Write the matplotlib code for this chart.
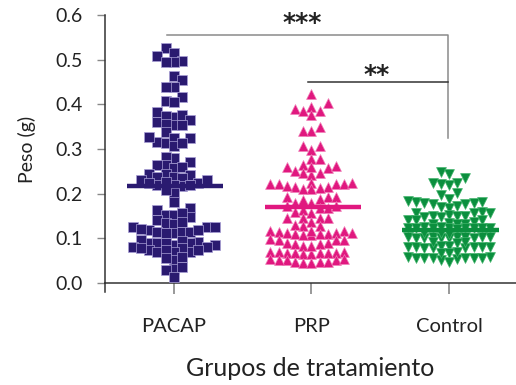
import numpy as np
import matplotlib
matplotlib.use("Agg")
import matplotlib.pyplot as plt

plt.rcParams['font.family'] = ['Lato', 'DejaVu Sans']

categories = ["PACAP", "PRP", "Control"]

pacap = [0.527, 0.515, 0.509, 0.496, 0.494, 0.495, 0.463, 0.454, 0.438, 0.439, 0.417, 0.408,
         0.406, 0.383, 0.371, 0.361, 0.374, 0.376, 0.353, 0.357, 0.365, 0.353, 0.339, 0.316,
         0.313, 0.324, 0.327, 0.324, 0.306, 0.313, 0.279, 0.283, 0.271, 0.264, 0.257, 0.260,
         0.264, 0.245, 0.244, 0.238, 0.238, 0.242, 0.234, 0.230, 0.223, 0.219, 0.217, 0.219,
         0.223, 0.219, 0.227, 0.230, 0.201, 0.208, 0.182, 0.167, 0.163, 0.152, 0.148, 0.152,
         0.156, 0.142, 0.135, 0.126, 0.119, 0.125, 0.126, 0.122, 0.133, 0.137, 0.115, 0.111,
         0.111, 0.115, 0.115, 0.119, 0.092, 0.090, 0.085, 0.081, 0.089, 0.096, 0.089, 0.081,
         0.085, 0.089, 0.094, 0.070, 0.074, 0.074, 0.078, 0.078, 0.070, 0.070, 0.074, 0.051,
         0.055, 0.059, 0.031, 0.036, 0.028, 0.014]

prp = [0.423, 0.402, 0.389, 0.386, 0.386, 0.394, 0.376, 0.350, 0.341, 0.341, 0.306, 0.298,
       0.306, 0.277, 0.277, 0.257, 0.262, 0.259, 0.264, 0.247, 0.242, 0.247, 0.251, 0.259,
       0.221, 0.221, 0.215, 0.214, 0.223, 0.210, 0.212, 0.210, 0.217, 0.221, 0.221, 0.223,
       0.193, 0.192, 0.187, 0.186, 0.193, 0.172, 0.167, 0.178, 0.178, 0.167, 0.172, 0.160,
       0.157, 0.163, 0.145, 0.145, 0.137, 0.145, 0.145, 0.128, 0.128, 0.130, 0.115, 0.111,
       0.110, 0.110, 0.117, 0.107, 0.107, 0.111, 0.110, 0.111, 0.117, 0.117, 0.096, 0.096,
       0.098, 0.089, 0.090, 0.096, 0.087, 0.087, 0.083, 0.070, 0.068, 0.068, 0.068, 0.066,
       0.065, 0.068, 0.068, 0.070, 0.070, 0.083, 0.051, 0.051, 0.048, 0.048, 0.045, 0.045,
       0.048, 0.051, 0.053, 0.053]

control = [0.249, 0.244, 0.234, 0.224, 0.219, 0.221, 0.224, 0.197, 0.189, 0.201, 0.182, 0.178,
           0.177, 0.172, 0.169, 0.171, 0.177, 0.178, 0.182, 0.184, 0.160, 0.156, 0.152, 0.150,
           0.148, 0.150, 0.148, 0.150, 0.156, 0.157, 0.141, 0.137, 0.132, 0.135, 0.132, 0.132,
           0.141, 0.141, 0.124, 0.123, 0.124, 0.123, 0.125, 0.125, 0.124, 0.122, 0.124, 0.124,
           0.124, 0.104, 0.103, 0.100, 0.101, 0.103, 0.104, 0.103, 0.100, 0.101, 0.101, 0.104,
           0.112, 0.113, 0.110, 0.081, 0.081, 0.083, 0.079, 0.081, 0.079, 0.081, 0.083, 0.081,
           0.079, 0.091, 0.092, 0.090, 0.059, 0.058, 0.056, 0.054, 0.056, 0.052, 0.056, 0.056,
           0.057, 0.057, 0.068, 0.069, 0.067, 0.047]

medians = [0.218, 0.171, 0.119]
colors = ["#2a1a70", "#e0187f", "#0b8f3e"]
markers = ["s", "^", "v"]
edge_colors = ["#a9a0d6", "#f07ab5", "#3fb36a"]

yticks = [0.0, 0.1, 0.2, 0.3, 0.4, 0.5, 0.6]
ytick_labels = ["0.0", "0.1", "0.2", "0.3", "0.4", "0.5", "0.6"]


def swarm_offsets(values, dx, dy, maxcol):
    """Greedy column-based beeswarm layout."""
    vals = np.asarray(values)
    order = np.argsort(vals)
    cols = {}
    offs = np.zeros(len(vals))
    seq = [0]
    for k in range(1, maxcol + 1):
        seq += [-k, k]
    for i in order:
        v = vals[i]
        best_c, best_gap = 0, -1.0
        for c in seq:
            placed = cols.get(c, [])
            gap = min([abs(v - p) for p in placed], default=1.0)
            if gap >= dy:
                best_c = c
                break
            if gap > best_gap:
                best_c, best_gap = c, gap
        cols.setdefault(best_c, []).append(v)
        offs[i] = best_c * dx
    return offs


fig = plt.figure(figsize=(5.16, 3.85), dpi=100)
ax = fig.add_axes([105 / 516, 102 / 385, 411 / 516, 268 / 385])

data = [pacap, prp, control]
dx = 8.2 / 137.5
for i, vals in enumerate(data):
    offs = swarm_offsets(vals, dx, 0.0165, 5)
    ax.scatter(i + offs, vals, marker=markers[i], s=46 if markers[i] == "s" else 50,
               color=colors[i], edgecolors=edge_colors[i], linewidths=0.5, zorder=3,
               clip_on=False)
    ax.plot([i - 0.34, i + 0.36], [medians[i], medians[i]], color=colors[i], lw=3.2,
            solid_capstyle="butt", zorder=4)

# significance brackets
ax.plot([-0.05, 1.99, 1.99], [0.555, 0.555, 0.324], color="#8a8a8a", lw=1.1, clip_on=False)
ax.plot([0.975, 1.99], [0.450, 0.450], color="#333333", lw=1.1, clip_on=False)
ax.text(0.93, 0.582, "***", ha="center", va="center", fontsize=18, fontweight="bold",
        color="#222222", family=["DejaVu Sans"])
ax.text(1.476, 0.466, "**", ha="center", va="center", fontsize=18, fontweight="bold",
        color="#222222", family=["DejaVu Sans"])

ax.set_xlim(-0.5, 2.487)
ax.set_ylim(0, 0.6)
ax.set_yticks(yticks)
ax.set_yticklabels(ytick_labels, fontsize=14, color="#222222")
ax.set_xticks(range(len(categories)))
ax.set_xticklabels(categories, fontsize=14.5, color="#222222")
ax.tick_params(axis="y", length=6, width=1, color="#888888", pad=10)
ax.tick_params(axis="x", length=8, width=1.2, color="#888888", pad=17)

for s in ["top", "right"]:
    ax.spines[s].set_visible(False)
ax.spines["left"].set_color("#333333")
ax.spines["bottom"].set_color("#333333")
ax.spines["left"].set_linewidth(1.1)
ax.spines["bottom"].set_linewidth(1.1)
# extension of the left axis line below the x axis
ax.plot([0, 0], [-0.033, 0], transform=ax.transAxes, color="#333333", lw=1.1, clip_on=False)

ax.set_ylabel("Peso (g)", fontsize=14, color="#222222", labelpad=14)
ax.set_xlabel("Grupos de tratamiento", fontsize=18, color="#222222", labelpad=16)

fig.savefig("out.png", dpi=100)
